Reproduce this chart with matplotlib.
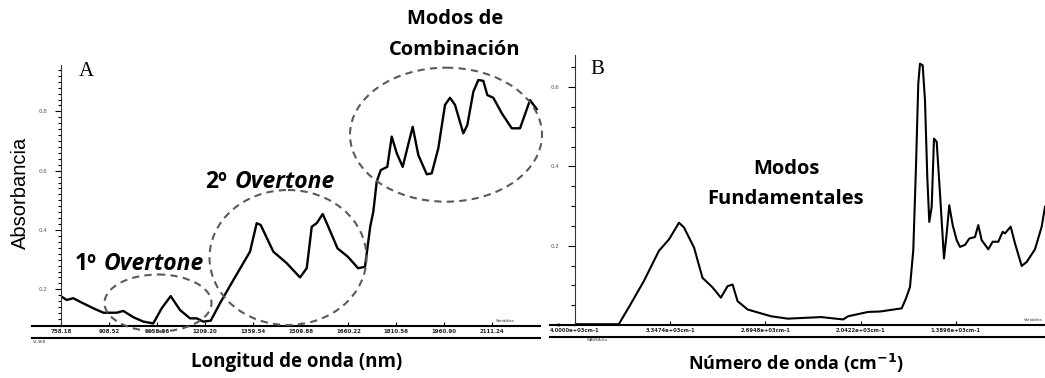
import numpy as np
import matplotlib.pyplot as plt
from matplotlib.patches import Ellipse
from matplotlib.ticker import MultipleLocator

W, H = 1045, 378

# Panel A: NIR spectrum (nm, absorbance)
wl_nm = [757.2, 776.1, 796.8, 817.8, 859.6, 891.0, 933.0, 953.7, 985.1, 1016.5,
         1047.9, 1074.2, 1102.5, 1131.7, 1163.1, 1184.1, 1204.8, 1228.0, 1257.2, 1299.0,
         1351.4, 1372.4, 1384.9, 1424.5, 1466.6, 1508.3, 1529.4, 1545.1, 1560.7, 1579.6,
         1597.1, 1626.0, 1658.3, 1690.7, 1712.3, 1728.6, 1738.4, 1749.0, 1761.6, 1782.3,
         1796.1, 1811.8, 1830.6, 1845.1, 1862.0, 1879.6, 1906.0, 1921.7, 1942.4, 1963.4,
         1979.1, 1994.8, 2020.8, 2033.4, 2052.2, 2067.9, 2083.6, 2096.2, 2115.0, 2141.4,
         2172.8, 2198.8, 2230.2, 2251.2]
abs_a = [0.177, 0.164, 0.170, 0.158, 0.136, 0.121, 0.121, 0.127, 0.106, 0.091,
         0.085, 0.136, 0.177, 0.130, 0.102, 0.102, 0.091, 0.094, 0.153, 0.231,
         0.327, 0.423, 0.417, 0.327, 0.288, 0.240, 0.271, 0.411, 0.423, 0.454,
         0.411, 0.338, 0.310, 0.271, 0.276, 0.411, 0.462, 0.563, 0.602, 0.613,
         0.715, 0.659, 0.613, 0.676, 0.748, 0.653, 0.588, 0.591, 0.676, 0.822,
         0.846, 0.822, 0.726, 0.754, 0.866, 0.906, 0.903, 0.855, 0.846, 0.794,
         0.743, 0.743, 0.838, 0.808]
ticks_a = [758.18, 908.52, 1058.86, 1209.20, 1359.54, 1509.88, 1660.22, 1810.56, 1960.90, 2111.24]
ticklabels_a = ["758.18", "908.52", "1058.86", "1209.20", "1359.54",
                "1509.88", "1660.22", "1810.56", "1960.90", "2111.24"]
yticks_a = [0.2, 0.4, 0.6, 0.8]

# Panel B: MIR spectrum (cm-1, absorbance)
wn_cm = [4000.0, 3699.7, 3619.5, 3527.7, 3424.9, 3355.6, 3287.1, 3252.8, 3183.6, 3126.0,
         3057.4, 3000.0, 2953.9, 2919.6, 2885.4, 2816.1, 2655.7, 2541.3, 2311.6, 2162.2,
         2127.9, 1990.1, 1909.3, 1760.5, 1731.1, 1703.6, 1680.9, 1662.5, 1646.7, 1635.0,
         1616.5, 1600.8, 1585.0, 1571.3, 1554.8, 1539.0, 1520.5, 1497.9, 1470.5, 1452.0,
         1434.2, 1410.9, 1383.5, 1360.8, 1326.6, 1297.1, 1258.0, 1235.4, 1212.1, 1166.8,
         1136.7, 1098.3, 1068.1, 1052.4, 1013.3, 983.8, 937.9, 903.6, 846.7, 800.8, 778.1]
abs_b = [0.002, 0.002, 0.052, 0.111, 0.187, 0.216, 0.258, 0.246, 0.195, 0.119,
         0.095, 0.069, 0.098, 0.102, 0.060, 0.039, 0.022, 0.016, 0.020, 0.014,
         0.022, 0.033, 0.034, 0.042, 0.067, 0.096, 0.189, 0.399, 0.609, 0.659,
         0.655, 0.567, 0.374, 0.260, 0.298, 0.470, 0.462, 0.332, 0.168, 0.231,
         0.302, 0.252, 0.214, 0.197, 0.202, 0.218, 0.222, 0.252, 0.214, 0.191,
         0.210, 0.210, 0.235, 0.231, 0.248, 0.206, 0.149, 0.159, 0.191, 0.248, 0.298]
ticks_b = [4000.0, 3347.4, 2694.8, 2042.2, 1389.6]
ticklabels_b = ["4.0000e+03cm-1", "3.3474e+03cm-1", "2.6948e+03cm-1",
                "2.0422e+03cm-1", "1.3896e+03cm-1"]
yticks_b = [0, 0.2, 0.4, 0.6]


def box(x0, y0, x1, y1):
    return [x0 / W, 1 - y1 / H, (x1 - x0) / W, (y1 - y0) / H]


fig = plt.figure(figsize=(W / 100, H / 100), dpi=100)

# --- panel A ---
axA = fig.add_axes(box(61, 65, 540, 326))
axA.plot(wl_nm, abs_a, color='black', lw=1.7)
axA.set_xlim(758.18, 2261.5)
axA.set_ylim(0.0762, 0.9565)
axA.set_xticks(ticks_a)
axA.set_xticklabels(ticklabels_a, fontsize=4, fontweight='bold', color='#222222')
axA.set_yticks(yticks_a)
axA.set_yticklabels(["0.2", "0.4", "0.6", "0.8"], fontsize=4, color='#555555')
axA.yaxis.set_minor_locator(MultipleLocator(0.02))
axA.tick_params(axis='y', which='major', length=4, width=0.8, pad=6)
axA.tick_params(axis='y', which='minor', length=2.5, width=0.8)
axA.tick_params(axis='x', direction='in', length=3, width=0.8, pad=2)

# --- panel B ---
axB = fig.add_axes(box(575, 55, 1045, 325))
axB.plot(wn_cm, abs_b, color='black', lw=1.5)
axB.set_xlim(4000, 778)
axB.set_ylim(0, 0.681)
axB.set_xticks(ticks_b)
axB.set_xticklabels(ticklabels_b, fontsize=3.8, fontweight='bold', color='#222222')
axB.set_yticks(yticks_b)
axB.set_yticklabels(["0", "0.2", "0.4", "0.6"], fontsize=4, color='#555555')
axB.yaxis.set_minor_locator(MultipleLocator(0.05))
axB.tick_params(axis='y', which='major', length=5, width=0.8, pad=6)
axB.tick_params(axis='y', which='minor', length=3, width=0.8)
axB.tick_params(axis='x', direction='in', length=3, width=0.8, pad=2)

for ax in (axA, axB):
    ax.spines['top'].set_visible(False)
    ax.spines['right'].set_visible(False)
    ax.spines['left'].set_color('#333333')
    ax.spines['bottom'].set_linewidth(1.5)
    ax.patch.set_alpha(0)

# --- overlay in pixel coordinates ---
ov = fig.add_axes([0, 0, 1, 1])
ov.set_xlim(0, W)
ov.set_ylim(H, 0)
ov.axis('off')

lk = dict(color='black', lw=1.5)
ov.plot([32, 61], [326, 326], **lk)
ov.plot([32, 540], [338, 338], **lk)
ov.plot([550, 575], [325, 325], **lk)
ov.plot([550, 1045], [337, 337], **lk)

ov.text(505, 322, "Variables", fontsize=3, ha='center', color='#333333')
ov.text(1033, 321, "Variables", fontsize=3, ha='center', color='#333333')
ov.text(40, 343, "VI-468", fontsize=3, ha='center', color='#333333')
ov.text(598, 341, "WAVEA-Ex", fontsize=3, ha='center', color='#333333')

ek = dict(fill=False, ec='#5a5a5a', lw=1.5, ls=(0, (3.5, 2.5)))
ov.add_patch(Ellipse((158, 303), 107, 57, **ek))
ov.add_patch(Ellipse((288, 257.5), 157, 135, **ek))
ov.add_patch(Ellipse((446, 134.7), 192, 134, **ek))

bold = dict(family='Open Sans', fontweight='bold', color='black')
ov.text(455, 19, "Modos de", fontsize=14.5, ha='center', va='center', **bold)
ov.text(455, 50, "Combinación", fontsize=14.5, ha='center', va='center', **bold)
ov.text(786, 169, "Modos", fontsize=14.5, ha='center', va='center', **bold)
ov.text(786, 199, "Fundamentales", fontsize=14.5, ha='center', va='center', **bold)

ov.text(75, 264, "1º", fontsize=16.5, ha='left', va='center', **bold)
ov.text(104, 264, "Overtone", fontsize=16.5, ha='left', va='center', style='italic', **bold)
ov.text(205, 182, "2º", fontsize=16.5, ha='left', va='center', **bold)
ov.text(235, 182, "Overtone", fontsize=16.5, ha='left', va='center', style='italic', **bold)

ov.text(297, 362, "Longitud de onda (nm)", fontsize=13.5, ha='center', va='center', **bold)
ov.text(796, 363, "Número de onda (cm$^{\\mathbf{-1}}$)", fontsize=13, ha='center', va='center', **bold)

ov.text(20, 193, "Absorbancia", fontsize=14.5, rotation=90, ha='center', va='center',
        family='Liberation Sans')
ov.text(86, 72, "A", fontsize=15, ha='center', va='center', family='Liberation Serif')
ov.text(597, 70, "B", fontsize=15, ha='center', va='center', family='Liberation Serif')

fig.savefig('out.png', dpi=100)
